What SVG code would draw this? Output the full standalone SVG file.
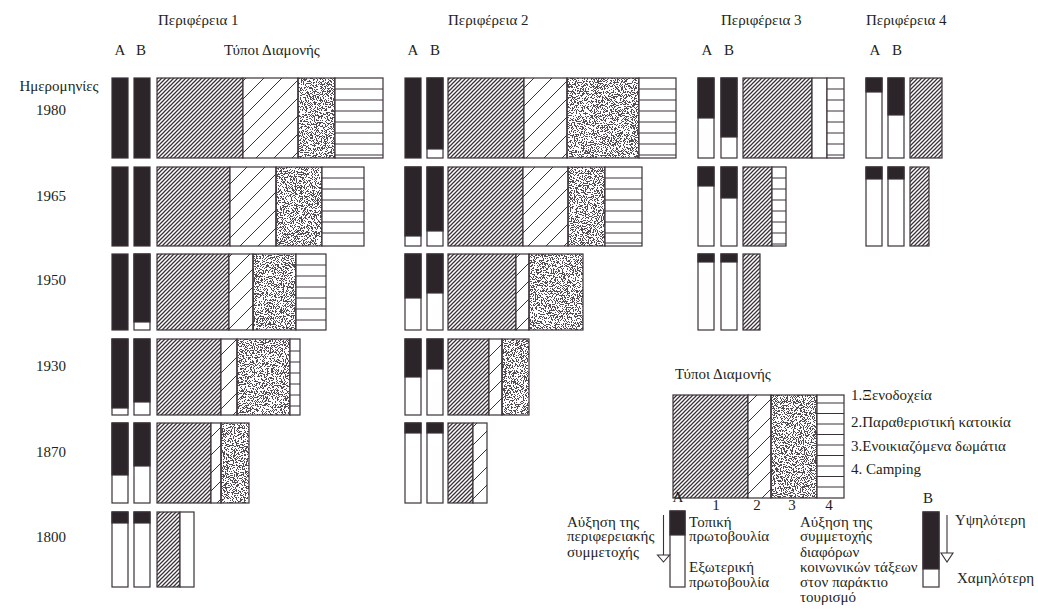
<svg xmlns="http://www.w3.org/2000/svg" width="1038" height="615" viewBox="0 0 1038 615">
<style>
text{font-family:"Liberation Serif","DejaVu Serif","Times New Roman",serif;font-size:15px;fill:#231f20}
.m{text-anchor:middle}
.s{stroke:#3a3137;stroke-width:1.2}
.o{fill:none;stroke:#3a3137;stroke-width:1.2}
.t0{fill:#fff}
.t1{fill:url(#h1)}
.t2{fill:url(#h2)}
.t3{fill:#000;filter:url(#stip)}
.dk{fill:#2b2428}
.ln{stroke:#3a3137;stroke-width:1;fill:none}
</style>
<defs>
<pattern id="h1" patternUnits="userSpaceOnUse" width="4" height="4">
<rect width="4" height="4" fill="#fff"/>
<path d="M-1,1 l2,-2 M0,4 l4,-4 M3,5 l2,-2" stroke="#3a3137" stroke-width="1.25"/>
</pattern>
<pattern id="h2" patternUnits="userSpaceOnUse" width="18" height="18">
<rect width="18" height="18" fill="#fff"/>
<path d="M-1,1 l2,-2 M0,18 l18,-18 M17,19 l2,-2" stroke="#3a3137" stroke-width="1"/>
</pattern>
<filter id="stip" x="0" y="0" width="1" height="1" color-interpolation-filters="sRGB">
<feTurbulence type="fractalNoise" baseFrequency="1.1" numOctaves="1" seed="5"/>
<feColorMatrix type="matrix" values="0 0 0 0 0.25  0 0 0 0 0.22  0 0 0 0 0.24  2 0 0 0 -0.56"/>
<feComponentTransfer><feFuncA type="discrete" tableValues="0 0.9"/></feComponentTransfer>
<feComposite in2="SourceAlpha" operator="in"/>
</filter>
</defs>
<rect width="1038" height="615" fill="#fff"/>

<g id="headers">
<text x="158" y="25">Περιφέρεια 1</text>
<text class="m" x="120" y="55">A</text>
<text class="m" x="141" y="55">B</text>
<text x="224" y="55">Τύποι Διαμονής</text>
<text x="448" y="25">Περιφέρεια 2</text>
<text class="m" x="413" y="55">A</text>
<text class="m" x="435" y="55">B</text>
<text x="721" y="25">Περιφέρεια 3</text>
<text class="m" x="707" y="55">A</text>
<text class="m" x="729" y="55">B</text>
<text x="866" y="25">Περιφέρεια 4</text>
<text class="m" x="875" y="55">A</text>
<text class="m" x="897" y="55">B</text>
</g>

<g id="dates">
<text class="m" x="59" y="91">Ημερομηνίες</text>
<text class="m" x="51" y="115">1980</text>
<text class="m" x="51" y="201">1965</text>
<text class="m" x="51" y="285">1950</text>
<text class="m" x="51" y="371">1930</text>
<text class="m" x="51" y="457">1870</text>
<text class="m" x="51" y="542">1800</text>
</g>

<!-- Periphery 1 -->
<g id="p1-1980">
<rect class="dk s" x="112" y="78" width="16" height="80"/>
<rect class="dk s" x="134" y="78" width="16" height="80"/>
<rect class="t1 s" x="157" y="78" width="86" height="80"/>
<rect class="t2 s" x="243" y="78" width="55" height="80"/>
<rect class="t3" x="298" y="78" width="37" height="80"/><rect class="o" x="298" y="78" width="37" height="80"/>
<rect class="t0 s" x="335" y="78" width="48" height="80"/>
<path class="ln" d="M335,89H383M335,100H383M335,111H383M335,122H383M335,133H383M335,144H383M335,155H383"/>
</g>
<g id="p1-1965">
<rect class="dk s" x="112" y="167" width="16" height="79"/>
<rect class="dk s" x="134" y="167" width="16" height="79"/>
<rect class="t1 s" x="157" y="167" width="73" height="79"/>
<rect class="t2 s" x="230" y="167" width="46" height="79"/>
<rect class="t3" x="276" y="167" width="46" height="79"/><rect class="o" x="276" y="167" width="46" height="79"/>
<rect class="t0 s" x="322" y="167" width="42" height="79"/>
<path class="ln" d="M322,178H364M322,189H364M322,200H364M322,211H364M322,222H364M322,233H364"/>
</g>
<g id="p1-1950">
<rect class="dk s" x="112" y="254" width="16" height="76"/>
<rect class="t0 s" x="134" y="254" width="16" height="76"/>
<rect class="dk s" x="134" y="254" width="16" height="68"/>
<rect class="t1 s" x="157" y="254" width="72" height="76"/>
<rect class="t2 s" x="229" y="254" width="24" height="76"/>
<rect class="t3" x="253" y="254" width="43" height="76"/><rect class="o" x="253" y="254" width="43" height="76"/>
<rect class="t0 s" x="296" y="254" width="30" height="76"/>
<path class="ln" d="M296,265H326M296,276H326M296,287H326M296,298H326M296,309H326M296,320H326"/>
</g>
<g id="p1-1930">
<rect class="t0 s" x="112" y="339" width="16" height="76"/>
<rect class="dk s" x="112" y="339" width="16" height="69"/>
<rect class="t0 s" x="134" y="339" width="16" height="76"/>
<rect class="dk s" x="134" y="339" width="16" height="63"/>
<rect class="t1 s" x="157" y="339" width="64" height="76"/>
<rect class="t2 s" x="221" y="339" width="16" height="76"/>
<rect class="t3" x="237" y="339" width="53" height="76"/><rect class="o" x="237" y="339" width="53" height="76"/>
<rect class="t0 s" x="290" y="339" width="10" height="76"/>
<path class="ln" d="M290,351H300M290,362H300M290,373H300M290,384H300M290,395H300M290,406H300"/>
</g>
<g id="p1-1870">
<rect class="t0 s" x="112" y="423" width="16" height="80"/>
<rect class="dk s" x="112" y="423" width="16" height="52"/>
<rect class="t0 s" x="134" y="423" width="16" height="80"/>
<rect class="dk s" x="134" y="423" width="16" height="43"/>
<rect class="t1 s" x="157" y="423" width="54" height="80"/>
<rect class="t2 s" x="211" y="423" width="10" height="80"/>
<rect class="t3" x="221" y="423" width="28" height="80"/><rect class="o" x="221" y="423" width="28" height="80"/>
</g>
<g id="p1-1800">
<rect class="t0 s" x="112" y="512" width="16" height="75"/>
<rect class="dk s" x="112" y="512" width="16" height="11"/>
<rect class="t0 s" x="134" y="512" width="16" height="75"/>
<rect class="dk s" x="134" y="512" width="16" height="11"/>
<rect class="t1 s" x="157" y="512" width="23" height="75"/>
<rect class="t0 s" x="180" y="512" width="14" height="75"/>
</g>

<!-- Periphery 2 -->
<g id="p2-1980">
<rect class="dk s" x="405" y="78" width="16" height="80"/>
<rect class="t0 s" x="427" y="78" width="16" height="80"/>
<rect class="dk s" x="427" y="78" width="16" height="71"/>
<rect class="t1 s" x="448" y="78" width="76" height="80"/>
<rect class="t2 s" x="524" y="78" width="43" height="80"/>
<rect class="t3" x="567" y="78" width="72" height="80"/><rect class="o" x="567" y="78" width="72" height="80"/>
<rect class="t0 s" x="639" y="78" width="37" height="80"/>
<path class="ln" d="M639,89H676M639,100H676M639,111H676M639,122H676M639,133H676M639,144H676M639,155H676"/>
</g>
<g id="p2-1965">
<rect class="t0 s" x="405" y="167" width="16" height="79"/>
<rect class="dk s" x="405" y="167" width="16" height="69"/>
<rect class="t0 s" x="427" y="167" width="16" height="79"/>
<rect class="dk s" x="427" y="167" width="16" height="64"/>
<rect class="t1 s" x="448" y="167" width="75" height="79"/>
<rect class="t2 s" x="523" y="167" width="45" height="79"/>
<rect class="t3" x="568" y="167" width="37" height="79"/><rect class="o" x="568" y="167" width="37" height="79"/>
<rect class="t0 s" x="605" y="167" width="37" height="79"/>
<path class="ln" d="M605,178H642M605,189H642M605,200H642M605,211H642M605,222H642M605,233H642M605,243H642"/>
</g>
<g id="p2-1950">
<rect class="t0 s" x="405" y="254" width="16" height="76"/>
<rect class="dk s" x="405" y="254" width="16" height="44"/>
<rect class="t0 s" x="427" y="254" width="16" height="76"/>
<rect class="dk s" x="427" y="254" width="16" height="39"/>
<rect class="t1 s" x="448" y="254" width="68" height="76"/>
<rect class="t2 s" x="516" y="254" width="13" height="76"/>
<rect class="t3" x="529" y="254" width="54" height="76"/><rect class="o" x="529" y="254" width="54" height="76"/>
</g>
<g id="p2-1930">
<rect class="t0 s" x="405" y="339" width="16" height="76"/>
<rect class="dk s" x="405" y="339" width="16" height="38"/>
<rect class="t0 s" x="427" y="339" width="16" height="76"/>
<rect class="dk s" x="427" y="339" width="16" height="30"/>
<rect class="t1 s" x="448" y="339" width="41" height="76"/>
<rect class="t2 s" x="489" y="339" width="13" height="76"/>
<rect class="t3" x="502" y="339" width="27" height="76"/><rect class="o" x="502" y="339" width="27" height="76"/>
</g>
<g id="p2-1870">
<rect class="t0 s" x="405" y="423" width="16" height="80"/>
<rect class="dk s" x="405" y="423" width="16" height="10"/>
<rect class="t0 s" x="427" y="423" width="16" height="80"/>
<rect class="dk s" x="427" y="423" width="16" height="10"/>
<rect class="t1 s" x="448" y="423" width="25" height="80"/>
<rect class="t2 s" x="473" y="423" width="14" height="80"/>
</g>

<!-- Periphery 3 -->
<g id="p3-1980">
<rect class="t0 s" x="698" y="78" width="16" height="80"/>
<rect class="dk s" x="698" y="78" width="16" height="40"/>
<rect class="t0 s" x="721" y="78" width="16" height="80"/>
<rect class="dk s" x="721" y="78" width="16" height="59"/>
<rect class="t1 s" x="743" y="78" width="69" height="80"/>
<rect class="t0 s" x="812" y="78" width="15" height="80"/>
<rect class="t0 s" x="827" y="78" width="17" height="80"/>
<path class="ln" d="M827,89H844M827,100H844M827,111H844M827,122H844M827,133H844M827,144H844M827,155H844"/>
</g>
<g id="p3-1965">
<rect class="t0 s" x="698" y="167" width="16" height="79"/>
<rect class="dk s" x="698" y="167" width="16" height="19"/>
<rect class="t0 s" x="721" y="167" width="16" height="79"/>
<rect class="dk s" x="721" y="167" width="16" height="31"/>
<rect class="t1 s" x="743" y="167" width="29" height="79"/>
<rect class="t0 s" x="772" y="167" width="14" height="79"/>
<path class="ln" d="M772,178H786M772,189H786M772,200H786M772,211H786M772,222H786M772,233H786M772,244H786"/>
</g>
<g id="p3-1950">
<rect class="t0 s" x="698" y="254" width="16" height="76"/>
<rect class="dk s" x="698" y="254" width="16" height="8"/>
<rect class="t0 s" x="721" y="254" width="16" height="76"/>
<rect class="dk s" x="721" y="254" width="16" height="8"/>
<rect class="t1 s" x="743" y="254" width="17" height="76"/>
</g>

<!-- Periphery 4 -->
<g id="p4-1980">
<rect class="t0 s" x="866" y="78" width="16" height="80"/>
<rect class="dk s" x="866" y="78" width="16" height="14"/>
<rect class="t0 s" x="888" y="78" width="16" height="80"/>
<rect class="dk s" x="888" y="78" width="16" height="37"/>
<rect class="t1 s" x="910" y="78" width="32" height="80"/>
</g>
<g id="p4-1965">
<rect class="t0 s" x="866" y="167" width="16" height="79"/>
<rect class="dk s" x="866" y="167" width="16" height="12"/>
<rect class="t0 s" x="888" y="167" width="16" height="79"/>
<rect class="dk s" x="888" y="167" width="16" height="12"/>
<rect class="t1 s" x="910" y="167" width="19" height="79"/>
</g>

<!-- Legend: types -->
<g id="legend-types">
<text x="675" y="379">Τύποι Διαμονής</text>
<rect class="t1 s" x="673" y="395" width="75" height="103"/>
<rect class="t2 s" x="748" y="395" width="23" height="103"/>
<rect class="t3" x="771" y="395" width="46" height="103"/><rect class="o" x="771" y="395" width="46" height="103"/>
<rect class="t0 s" x="817" y="395" width="27" height="103"/>
<path class="ln" d="M817,403H844M817,413.5H844M817,424H844M817,434.5H844M817,445H844M817,455.5H844M817,466H844M817,476.5H844M817,487H844"/>
<text class="m" x="716" y="510">1</text>
<text class="m" x="757" y="510">2</text>
<text class="m" x="792" y="510">3</text>
<text class="m" x="829" y="510">4</text>
<text x="851" y="400">1.Ξενοδοχεία</text>
<text x="851" y="427">2.Παραθεριστική κατοικία</text>
<text x="851" y="451">3.Ενοικιαζόμενα δωμάτια</text>
<text x="851" y="474">4. Camping</text>
</g>

<!-- Legend A -->
<g id="legend-a">
<text class="m" x="678" y="502">A</text>
<rect class="t0 s" x="670" y="511" width="15" height="76"/>
<rect class="dk s" x="670" y="511" width="15" height="24"/>
<text x="567" y="527">Αύξηση της</text>
<text x="567" y="541">περιφερειακής</text>
<text x="567" y="557">συμμετοχής</text>
<text x="689" y="527">Τοπική</text>
<text x="689" y="541">πρωτοβουλία</text>
<text x="689" y="572">Εξωτερική</text>
<text x="689" y="587">πρωτοβουλία</text>
</g>

<!-- Legend B -->
<g id="legend-b">
<text class="m" x="928" y="503">B</text>
<rect class="t0 s" x="923" y="512" width="16" height="75"/>
<rect class="dk s" x="923" y="512" width="16" height="57"/>
<text x="800" y="527">Αύξηση της</text>
<text x="800" y="541">συμμετοχής</text>
<text x="800" y="557">διαφόρων</text>
<text x="800" y="572">κοινωνικών τάξεων</text>
<text x="800" y="587">στον παράκτιο</text>
<text x="800" y="602">τουρισμό</text>
<text x="955" y="525">Υψηλότερη</text>
<text x="957" y="583">Χαμηλότερη</text>
</g>

<g id="connectors" fill="#fff" stroke="#3a3137" stroke-width="1.1">
<path d="M663.5,515V555" fill="none"/>
<polygon points="657.5,555 669.5,555 663.5,562"/>
<path d="M947,515V553" fill="none"/>
<polygon points="941,553 953,553 947,562"/>
</g>
</svg>
